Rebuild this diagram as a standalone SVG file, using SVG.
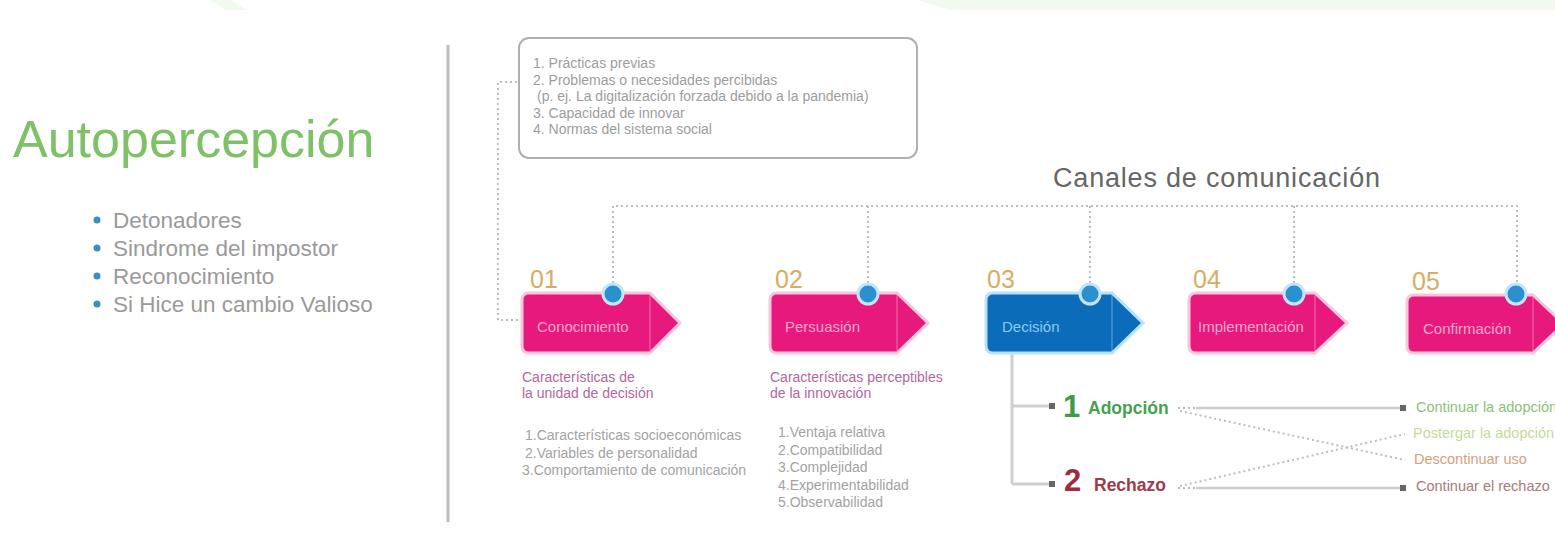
<svg xmlns="http://www.w3.org/2000/svg" width="1555" height="546" viewBox="0 0 1555 546">
<defs>
<style>
text{font-family:"Liberation Sans",Arial,sans-serif}
.bul{font-size:22.5px;fill:#9a9a9a}
.box{font-size:14px;fill:#9d9d9d}
.num{font-size:25px;fill:#d6ad62}
.pink{fill:#e8197c;stroke:#fbc6dd;stroke-width:3}
.blue{fill:#0b6cba;stroke:#b9e2f8;stroke-width:3}
.fold{stroke:#ffffff;stroke-opacity:.25;stroke-width:1.5}
.lblp{font-size:15px;fill:#f7a6cd}
.lblb{font-size:15px;fill:#8ccaf0}
.dot{fill:#2b90d0;stroke:#c4e6f8;stroke-width:3}
.head{font-size:14px;fill:#b3669c}
.lst{font-size:14px;fill:#a3a3a3}
.dash{fill:none;stroke:#bdbdbd;stroke-width:2;stroke-dasharray:2 3}
.gl{fill:none;stroke:#cfcfcf;stroke-width:3}
.sl{fill:none;stroke:#cccccc;stroke-width:2.5}
.res{font-size:14.5px}
</style>
<marker id="sq" viewBox="0 0 6 6" refX="3" refY="3" markerWidth="6" markerHeight="6" markerUnits="userSpaceOnUse" orient="auto">
<rect x="0" y="0" width="6" height="6" fill="#666"/>
</marker>
</defs>
<rect width="1555" height="546" fill="#ffffff"/>
<polygon points="210,0 230,0 247,10 226,10" fill="#f2f9ee"/>
<polygon points="918,0 1555,0 1555,10 950,10" fill="#f2f9ee"/>

<g id="autopercepcion">
<text x="13" y="157" font-size="52" fill="#7fc168">Autopercepción</text>
<circle cx="97" cy="220" r="3.5" fill="#3a8fc0"/>
<circle cx="97" cy="248" r="3.5" fill="#3a8fc0"/>
<circle cx="97" cy="276" r="3.5" fill="#3a8fc0"/>
<circle cx="97" cy="304" r="3.5" fill="#3a8fc0"/>
<text class="bul" x="113" y="228">Detonadores</text>
<text class="bul" x="113" y="256">Sindrome del impostor</text>
<text class="bul" x="113" y="284">Reconocimiento</text>
<text class="bul" x="113" y="312">Si Hice un cambio Valioso</text>
</g>

<line x1="448" y1="45" x2="448" y2="522" stroke="#bdbdbd" stroke-width="3"/>

<g id="connectors">
<polyline class="dash" points="517,82 498,82 498,320 520,320"/>
<polyline class="dash" points="613,283 613,206 1517,206 1517,283"/>
<line class="dash" x1="868" y1="206" x2="868" y2="283"/>
<line class="dash" x1="1090" y1="206" x2="1090" y2="283"/>
<line class="dash" x1="1294" y1="206" x2="1294" y2="283"/>
<polyline class="gl" points="1012,354 1012,484"/>
<line class="gl" x1="1012" y1="406" x2="1052" y2="406" marker-end="url(#sq)"/>
<line class="gl" x1="1012" y1="484" x2="1052" y2="484" marker-end="url(#sq)"/>
<line class="dash" x1="1178" y1="408" x2="1196" y2="408"/>
<line class="dash" x1="1178" y1="488" x2="1196" y2="488"/>
<line class="sl" x1="1196" y1="408" x2="1403" y2="408" marker-end="url(#sq)"/>
<line class="sl" x1="1196" y1="488" x2="1403" y2="488" marker-end="url(#sq)"/>
<line class="dash" x1="1180" y1="411" x2="1405" y2="460"/>
<line class="dash" x1="1180" y1="486" x2="1405" y2="434"/>
</g>

<g id="factores">
<rect x="519" y="38" width="398" height="120" rx="10" fill="#ffffff" stroke="#b0b0b0" stroke-width="2"/>
<text class="box" x="533" y="68">1. Prácticas previas</text>
<text class="box" x="533" y="84.5">2. Problemas o necesidades percibidas</text>
<text class="box" x="537" y="101">(p. ej. La digitalización forzada debido a la pandemia)</text>
<text class="box" x="533" y="117.5">3. Capacidad de innovar</text>
<text class="box" x="533" y="134">4. Normas del sistema social</text>
</g>

<g id="canales">
<text x="1053" y="187" font-size="27" fill="#666666" textLength="327">Canales de comunicación</text>
</g>

<g id="paso01">
<text class="num" x="530" y="288">01</text>
<path class="pink" d="M529,293 H650 L680,323 L650,353 H529 Q522,353 522,346 V300 Q522,293 529,293 Z"/>
<line class="fold" x1="650" y1="295" x2="650" y2="351"/>
<text class="lblp" x="537" y="332">Conocimiento</text>
<circle class="dot" cx="613" cy="294" r="10"/>
<text class="head" x="522" y="382">Características de</text>
<text class="head" x="522" y="398">la unidad de decisión</text>
<text class="lst" x="525" y="440">1.Características socioeconómicas</text>
<text class="lst" x="525" y="457.5">2.Variables de personalidad</text>
<text class="lst" x="522" y="475">3.Comportamiento de comunicación</text>
</g>

<g id="paso02">
<text class="num" x="775" y="288">02</text>
<path class="pink" d="M777,293 H897 L928,323 L897,353 H777 Q770,353 770,346 V300 Q770,293 777,293 Z"/>
<line class="fold" x1="897" y1="295" x2="897" y2="351"/>
<text class="lblp" x="785" y="332">Persuasión</text>
<circle class="dot" cx="868" cy="294" r="10"/>
<text class="head" x="770" y="382">Características perceptibles</text>
<text class="head" x="770" y="398">de la innovación</text>
<text class="lst" x="778" y="437">1.Ventaja relativa</text>
<text class="lst" x="778" y="454.5">2.Compatibilidad</text>
<text class="lst" x="778" y="472">3.Complejidad</text>
<text class="lst" x="778" y="489.5">4.Experimentabilidad</text>
<text class="lst" x="778" y="507">5.Observabilidad</text>
</g>

<g id="paso03">
<text class="num" x="987" y="288">03</text>
<path class="blue" d="M993,293 H1112 L1143,323 L1112,353 H993 Q986,353 986,346 V300 Q986,293 993,293 Z"/>
<line class="fold" x1="1112" y1="295" x2="1112" y2="351"/>
<text class="lblb" x="1002" y="332">Decisión</text>
<circle class="dot" cx="1090" cy="294" r="10"/>
</g>

<g id="paso04">
<text class="num" x="1193" y="288">04</text>
<path class="pink" d="M1196,293 H1315 L1347,323 L1315,353 H1196 Q1189,353 1189,346 V300 Q1189,293 1196,293 Z"/>
<line class="fold" x1="1315" y1="295" x2="1315" y2="351"/>
<text class="lblp" x="1198" y="332">Implementación</text>
<circle class="dot" cx="1294" cy="294" r="10"/>
</g>

<g id="paso05">
<text class="num" x="1412" y="290">05</text>
<path class="pink" d="M1414,295 H1533 L1564,324 L1533,353 H1414 Q1407,353 1407,346 V302 Q1407,295 1414,295 Z"/>
<line class="fold" x1="1533" y1="297" x2="1533" y2="351"/>
<text class="lblp" x="1423" y="334">Confirmación</text>
<circle class="dot" cx="1516" cy="294" r="10"/>
</g>

<g id="adopcion">
<text x="1063" y="417" font-size="31" font-weight="bold" fill="#3d9c4a">1</text>
<text x="1088" y="414" font-size="17.5" font-weight="bold" fill="#45a24e">Adopción</text>
</g>
<g id="rechazo">
<text x="1064" y="491" font-size="31" font-weight="bold" fill="#a12a3c">2</text>
<text x="1094" y="491" font-size="17.5" font-weight="bold" fill="#a03a4c">Rechazo</text>
</g>

<g id="resultados">
<text class="res" x="1416" y="412" fill="#8cc17a">Continuar la adopción</text>
<text class="res" x="1413" y="438" fill="#c6da9a">Postergar la adopción</text>
<text class="res" x="1414" y="464" fill="#d4a07c">Descontinuar uso</text>
<text class="res" x="1416" y="491" fill="#a87a7c">Continuar el rechazo</text>
</g>
</svg>
